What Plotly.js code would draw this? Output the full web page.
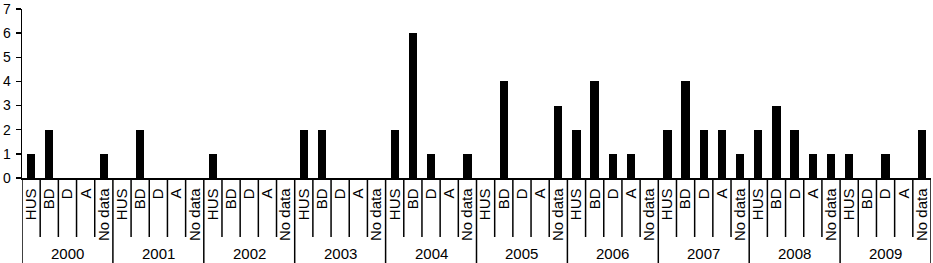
<!DOCTYPE html>
<html>
<head>
<meta charset="utf-8">
<script src="https://cdn.plot.ly/plotly-3.0.1.min.js"></script>
<style>html,body{margin:0;padding:0;background:#fff;}#chart{width:933px;height:263px;}</style>
</head>
<body>
<div id="chart"></div>
<script>
const years = ["2000","2001","2002","2003","2004","2005","2006","2007","2008","2009"];
const groups = ["HUS","BD","D","A","No data"];
const HUS    = [1,0,1,2,2,0,2,2,2,1];
const BD     = [2,2,0,2,6,4,4,4,3,0];
const D      = [0,0,0,0,1,0,1,2,2,1];
const A      = [0,0,0,0,0,0,1,2,1,0];
const NoData = [1,0,0,0,1,3,0,1,1,2];
const yTicks = [0,1,2,3,4,5,6,7];

const series = [HUS, BD, D, A, NoData];
const xs = [], ys = [], tickText = [];
years.forEach((yr, yi) => {
  groups.forEach((g, gi) => {
    xs.push(yi * groups.length + gi);
    ys.push(series[gi][yi]);
    tickText.push(g);
  });
});

const FONT = "Liberation Sans, Arial, Helvetica, sans-serif";
const nCat = xs.length;
const plotH = 263 - 9 - 85;

const shapes = [];
for (let i = 1; i < nCat; i++) {
  const isYear = i % groups.length === 0;
  shapes.push({
    type: "line", xref: "x", yref: "paper",
    x0: i - 0.5, x1: i - 0.5, y0: 0, y1: isYear ? -85 / plotH : -59 / plotH,
    line: {color: "#000", width: 1.5}
  });
}
shapes.push({type: "line", xref: "x", yref: "paper", x0: -0.5, x1: -0.5, y0: 0, y1: -85 / plotH, line: {color: "#000", width: 1.5}});
shapes.push({type: "line", xref: "x", yref: "paper", x0: nCat - 0.5, x1: nCat - 0.5, y0: 0, y1: -85 / plotH, line: {color: "#000", width: 1.5}});

const annotations = years.map((yr, yi) => ({
  text: yr, xref: "x", yref: "paper",
  x: yi * groups.length + (groups.length - 1) / 2, y: 0,
  yshift: -75, yanchor: "middle", xanchor: "center", showarrow: false,
  font: {family: FONT, size: 15, color: "#000"}
}));

Plotly.newPlot("chart", [{
  type: "bar", x: xs, y: ys, width: 0.46,
  marker: {color: "#000", line: {width: 0}},
  hoverinfo: "skip"
}], {
  width: 933, height: 263,
  margin: {l: 22, r: 2, t: 9, b: 85, pad: 0},
  paper_bgcolor: "#fff", plot_bgcolor: "#fff",
  showlegend: false,
  bargap: 0,
  xaxis: {
    type: "linear", range: [-0.5, nCat - 0.5],
    tickmode: "array", tickvals: xs, ticktext: tickText,
    tickangle: -90, ticks: "", showgrid: false, zeroline: false,
    showline: true, linecolor: "#000", linewidth: 1.5,
    tickfont: {family: FONT, size: 15, color: "#000"},
    ticklabelstandoff: 3,
    fixedrange: true
  },
  yaxis: {
    range: [0, 7], tickmode: "array", tickvals: yTicks, ticktext: yTicks.map(String),
    ticks: "outside", ticklen: 5, tickwidth: 1.5, tickcolor: "#000",
    showgrid: false, zeroline: false,
    showline: true, linecolor: "#000", linewidth: 1.5,
    tickfont: {family: FONT, size: 14, color: "#000"},
    ticklabelstandoff: 2,
    fixedrange: true
  },
  shapes: shapes,
  annotations: annotations
}, {staticPlot: true, displayModeBar: false});
</script>
</body>
</html>
